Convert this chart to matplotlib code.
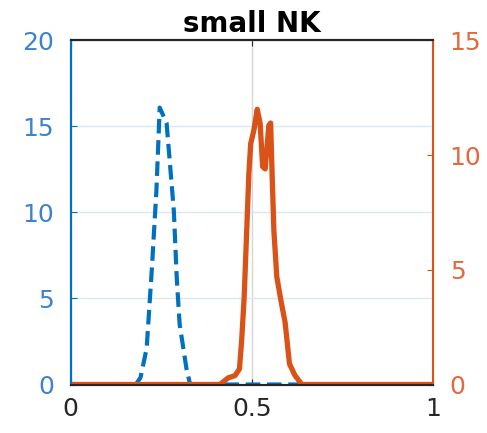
import matplotlib
matplotlib.use("Agg")
import matplotlib.pyplot as plt

# blue dashed series (left axis)
x_blue = [0, 0.18, 0.193, 0.21, 0.224, 0.237, 0.246, 0.265, 0.276, 0.285, 0.293, 0.301, 0.32, 0.33, 1]
y_blue = [0, 0, 0.4, 2.1, 6.6, 11.3, 16.1, 15.2, 12.4, 10.1, 6.2, 3.5, 0.9, 0, 0]

# orange solid series (right axis)
x_orange = [0, 0.412, 0.435, 0.454, 0.466, 0.472, 0.479, 0.486, 0.492, 0.497, 0.506, 0.515,
            0.523, 0.53, 0.537, 0.547, 0.552, 0.556, 0.561, 0.569, 0.58, 0.592, 0.604,
            0.619, 0.638, 1]
y_orange = [0, 0, 0.29, 0.39, 0.68, 1.9, 3.8, 6.7, 9.2, 10.5, 11.1, 12.0,
            11.4, 9.5, 9.4, 11.3, 11.4, 9.2, 6.7, 4.7, 3.7, 2.7, 0.9,
            0.4, 0, 0]

x_ticks = [0, 0.5, 1]
x_labels = ["0", "0.5", "1"]
left_ticks = [0, 5, 10, 15, 20]
right_ticks = [0, 5, 10, 15]

blue = "#0072BD"
orange = "#D95319"

plt.rcParams['font.family'] = ['DejaVu Sans']

fig = plt.figure(figsize=(4.87, 4.33), dpi=100)
ax = fig.add_axes([0.1448, 0.112, 0.7444, 0.7945])
ax2 = ax.twinx()

ax.plot(x_blue, y_blue, color=blue, linestyle=(0, (3.5, 1.6)), linewidth=3)
ax2.plot(x_orange, y_orange, color=orange, linewidth=3.8,
         solid_joinstyle='round', solid_capstyle='round')

ax.set_xlim(0, 1)
ax.set_ylim(0, 20)
ax2.set_ylim(0, 15)
ax.set_xticks(x_ticks)
ax.set_xticklabels(x_labels)
ax.set_yticks(left_ticks)
ax2.set_yticks(right_ticks)

ax.grid(axis='y', color='#dbe8f4', linewidth=1)
ax.grid(axis='x', color='#d6d6d6', linewidth=1)
ax.set_axisbelow(True)

ax.tick_params(axis='x', direction='in', length=4, labelsize=18, pad=9, colors='#262626', top=True)
ax.tick_params(axis='y', direction='in', length=4, labelsize=18, pad=12, colors=blue, labelcolor='#3b82cf')
ax2.tick_params(axis='y', direction='in', length=4, labelsize=18, pad=12, colors=orange, labelcolor='#e2683e')

for a in (ax, ax2):
    a.spines['top'].set_color('#262626')
    a.spines['bottom'].set_color('#262626')
    for s in a.spines.values():
        s.set_linewidth(1.5)
ax2.spines['left'].set_color(blue)
ax2.spines['right'].set_color(orange)
ax.spines['left'].set_color(blue)
ax.spines['right'].set_visible(False)

ax.set_title("small NK", fontsize=20, fontweight='bold', pad=6)

fig.savefig("out.png", dpi=100)
